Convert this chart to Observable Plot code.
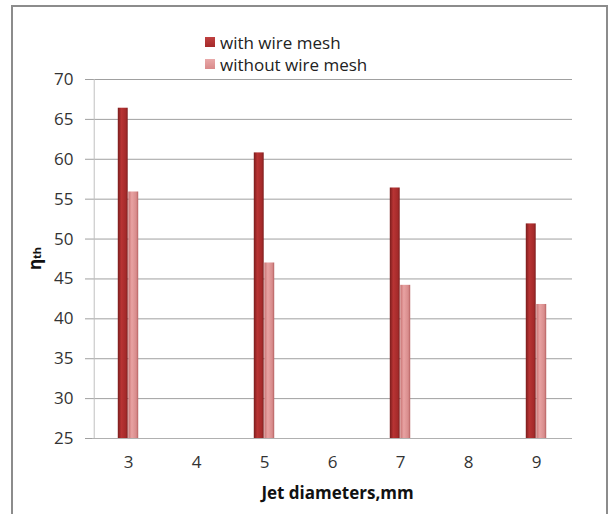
<!DOCTYPE html>
<html><head><meta charset="utf-8">
<script src="https://cdn.jsdelivr.net/npm/d3@7"></script>
<script src="https://cdn.jsdelivr.net/npm/@observablehq/plot@0.6"></script>
<style>
body{margin:0;background:#fff;}
#wrap{position:relative;width:608px;height:514px;overflow:hidden;font-family:"Open Sans",sans-serif;}
#wrap svg{position:absolute;left:0;top:0;}
#border{position:absolute;left:11px;top:5px;width:597px;height:530px;border:2px solid #8c8c8c;border-bottom:none;box-sizing:border-box;pointer-events:none;}
#legend{position:absolute;left:205px;top:31px;font-size:17px;color:#222;}
#legend .row{display:flex;align-items:center;height:22px;}
#legend .sw{width:10px;height:10px;margin-right:5px;}
</style></head>
<body><div id="wrap"><div id="border"></div><div id="legend"></div></div>
<script>
const diameters = [3, 4, 5, 6, 7, 8, 9];
const jets = [3, 5, 7, 9];
const withMesh = [66.4, 60.8, 56.4, 51.9];
const withoutMesh = [55.9, 47.0, 44.2, 41.8];
const seriesNames = ["with wire mesh", "without wire mesh"];
const yTicks = [25, 30, 35, 40, 45, 50, 55, 60, 65, 70];
const colors = ["#a52a2a", "#d98a8a"];

const dataWith = jets.map((d, i) => ({jet: d, value: withMesh[i]}));
const dataWithout = jets.map((d, i) => ({jet: d, value: withoutMesh[i]}));

const W = 608, H = 514, mL = 92, mR = 36, mT = 79, mB = 76;
const band = (W - mL - mR) / diameters.length;
const barW = 10.5;

const defs = () => {
  const g = document.createElementNS("http://www.w3.org/2000/svg", "defs");
  g.innerHTML = `
  <linearGradient id="gWith" x1="0" x2="1" y1="0" y2="0">
    <stop offset="0" stop-color="#7a1c1c"/><stop offset="0.35" stop-color="#b83434"/>
    <stop offset="0.8" stop-color="#a52a2a"/><stop offset="1" stop-color="#7e1f1f"/></linearGradient>
  <linearGradient id="gWithout" x1="0" x2="1" y1="0" y2="0">
    <stop offset="0" stop-color="#c77272"/><stop offset="0.35" stop-color="#e8a2a2"/>
    <stop offset="0.8" stop-color="#d88c8c"/><stop offset="1" stop-color="#b56060"/></linearGradient>`;
  return g;
};

const chart = Plot.plot({
  width: W, height: H,
  marginLeft: mL, marginRight: mR, marginTop: mT, marginBottom: mB,
  style: {fontFamily: "Open Sans, sans-serif", fontSize: "17px", background: "transparent", color: "#333"},
  x: {type: "band", domain: diameters, padding: 0},
  y: {domain: [25, 70]},
  marks: [
    defs,
    Plot.gridY(yTicks, {stroke: "#a0a0a0", strokeOpacity: 1}),
    Plot.ruleY([25], {stroke: "#b0b0b0"}),
    Plot.ruleX([diameters[0]], {dx: -band / 2, y1: 25, y2: 70, stroke: "#c0c0c0"}),
    Plot.axisY(yTicks, {tickSize: 7, tickPadding: 12, stroke: "#a0a0a0", fill: "#333", fontSize: 17, label: null}),
    Plot.axisX({tickSize: 0, tickPadding: 17, fill: "#333", fontSize: 17, label: null}),
    Plot.barY(dataWith, {x: "jet", y1: 25, y2: "value", fill: "url(#gWith)",
      insetLeft: band / 2 - barW, insetRight: band / 2}),
    Plot.barY(dataWithout, {x: "jet", y1: 25, y2: "value", fill: "url(#gWithout)",
      insetLeft: band / 2, insetRight: band / 2 - barW}),
    Plot.text(["Jet diameters,mm"], {frameAnchor: "bottom", dy: 60, dx: 5, fontWeight: "bold", fontSize: 17, fill: "#111"})
  ]
});
document.getElementById("wrap").prepend(chart);

// y-axis label with subscript
const svg = d3.select(chart);
const t = svg.append("text")
  .attr("transform", `translate(36,${(mT + H - mB) / 2}) rotate(-90)`)
  .attr("text-anchor", "middle").attr("dominant-baseline", "middle")
  .attr("font-weight", "bold").attr("font-size", 17).attr("fill", "#111")
  .attr("font-family", "Open Sans, sans-serif");
t.append("tspan").text("η");
t.append("tspan").attr("font-size", 11).attr("dy", 2).text("th");

// legend
const leg = d3.select("#legend");
seriesNames.forEach((n, i) => {
  const r = leg.append("div").attr("class", "row");
  r.append("div").attr("class", "sw").style("background", `linear-gradient(180deg, ${i ? "#e9a9a9" : "#c04040"}, ${colors[i]})`);
  r.append("span").text(n);
});
</script></body></html>
